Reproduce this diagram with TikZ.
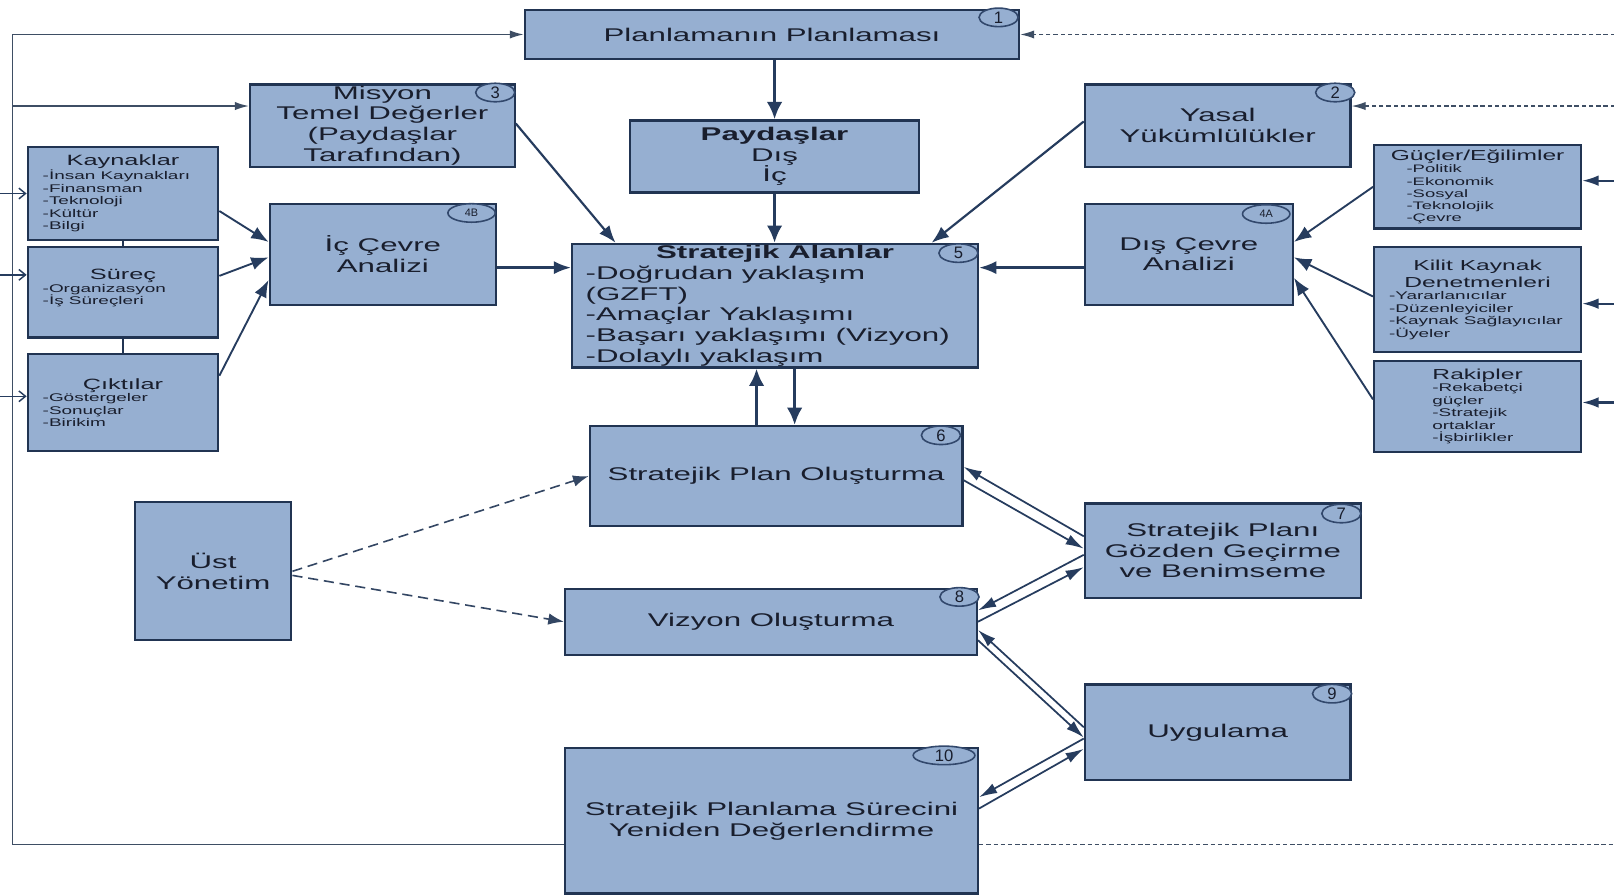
\documentclass[tikz,border=0pt]{standalone}
\usepackage{fontspec}
\setmainfont{Liberation Sans}[FakeStretch=1.7]
\newfontfamily\ringfont{Liberation Sans}
\usetikzlibrary{arrows.meta,shapes.geometric,calc}
\definecolor{boxfill}{RGB}{150,175,209}
\definecolor{boxline}{RGB}{33,52,82}
\definecolor{arrcol}{RGB}{38,60,94}
\definecolor{txtcol}{RGB}{25,30,45}
\definecolor{ringcol}{RGB}{50,72,108}
\definecolor{loopcol}{RGB}{62,78,100}
\newcommand\fsz[2]{\fontsize{#1}{#2}\selectfont}
\setlength\parindent{0pt}
\tikzset{
  x=0.025cm, y=-0.025cm,
  sz/.style 2 args={minimum width=#1*0.025cm, minimum height=#2*0.025cm},
  box/.style={draw=boxline, fill=boxfill, line width=1.6pt, inner sep=0pt, text=txtcol, align=center, font=\fsz{12.7}{14.3}},
  sbox/.style={draw=boxline, fill=boxfill, line width=1.6pt, inner sep=0pt, text=txtcol, font=\fsz{7.7}{8.6}},
  ring/.style={ellipse, draw=ringcol, line width=1.1pt, fill=boxfill, inner sep=0pt, minimum width=0.95cm, minimum height=0.45cm, font=\ringfont\fsz{11.5}{12}, text=txtcol},
  thickarr/.style={draw=arrcol, line width=2.3pt, -{Latex[length=0.42cm,width=0.38cm]}},
  medarr/.style={draw=arrcol, line width=1.5pt, -{Latex[length=0.42cm,width=0.32cm]}},
  thinarr/.style={draw=arrcol, line width=1.2pt, -{Latex[length=0.44cm,width=0.26cm]}},
  dasharr/.style={draw=arrcol!85!gray, line width=1.1pt, dash pattern=on 7pt off 4pt, -{Latex[length=0.38cm,width=0.28cm]}},
  loopline/.style={draw=loopcol, line width=1.1pt},
  looparr/.style={loopline, -{Latex[length=0.34cm,width=0.2cm]}},
  rdash/.style={draw=loopcol, line width=0.9pt, dash pattern=on 3pt off 2pt},
  rdasharr/.style={rdash, -{Latex[length=0.34cm,width=0.2cm]}},
  openarr/.style={draw=arrcol, line width=1pt, -{Straight Barb[length=0.16cm,width=0.26cm]}},
  rarr/.style={draw=arrcol, line width=1.5pt, -{Latex[length=0.4cm,width=0.26cm]}},
  conn/.style={draw=boxline, line width=1.2pt},
}
\begin{document}
\begin{tikzpicture}
\useasboundingbox (0,0) rectangle (1568,870);
\fill[white] (0,0) rectangle (1568,870);

% main boxes
\node[box, sz={480}{47}] (b1) at (750,33.5) {Planlamanın Planlaması};
\node[box, sz={257}{80}] (b3) at (371.5,122) {Misyon\\Temel Değerler\\(Paydaşlar\\Tarafından)};
\node[box, sz={281}{70}] (pay) at (752.5,152) {\textbf{Paydaşlar}\\Dış\\İç};
\node[box, sz={258}{80}] (b2) at (1183,122) {Yasal\\Yükümlülükler};
\node[box, sz={220}{98}] (b4b) at (372,247) {İç Çevre\\Analizi};
\node[box, sz={202}{98}] (b4a) at (1155,247) {Dış Çevre\\Analizi};
\node[box, sz={394}{120}, align=none] (b5) at (753,297)
  {\parbox{9.2cm}{\centerline{\textbf{Stratejik Alanlar}}\raggedright -Doğrudan yaklaşım\\(GZFT)\\-Amaçlar Yaklaşımı\\-Başarı yaklaşımı (Vizyon)\\-Dolaylı yaklaşım}};

% left small boxes
\node[sbox, sz={185}{90}] (kay) at (119.5,188)
  {\parbox{4.3cm}{\centerline{\fsz{10.3}{12}Kaynaklar}\raggedright\leftskip=0.2cm -İnsan Kaynakları\\-Finansman\\-Teknoloji\\-Kültür\\-Bilgi}};
\node[sbox, sz={185}{88}] (sur) at (119.5,284)
  {\parbox{4.3cm}{\centerline{\fsz{10.3}{12}Süreç}\raggedright\leftskip=0.2cm -Organizasyon\\-İş Süreçleri\par\vspace*{6pt}}};
\node[sbox, sz={185}{94}] (cik) at (119.5,391)
  {\parbox{4.3cm}{\centerline{\fsz{10.3}{12}Çıktılar}\raggedright\leftskip=0.2cm -Göstergeler\\-Sonuçlar\\-Birikim}};

% right small boxes
\node[sbox, sz={201}{81}, font=\fsz{7.5}{8.3}] (guc) at (1435.5,181.5)
  {\parbox{4.7cm}{\centerline{\fsz{10}{11.5}Güçler/Eğilimler}\raggedright\leftskip=0.625cm -Politik\\-Ekonomik\\-Sosyal\\-Teknolojik\\-Çevre}};
\node[sbox, sz={201}{102}] (kil) at (1435.5,291)
  {\parbox{4.7cm}{\fsz{10}{12}\centerline{Kilit Kaynak}\centerline{Denetmenleri}\fsz{7.7}{8.6}\raggedright\leftskip=0.2cm -Yararlanıcılar\\-Düzenleyiciler\\-Kaynak Sağlayıcılar\\-Üyeler}};
\node[sbox, sz={201}{88}] (rak) at (1435.5,395)
  {\parbox{4.7cm}{\centerline{\fsz{10}{11.5}Rakipler}\raggedright\leftskip=1.25cm -Rekabetçi\\güçler\\-Stratejik\\ortaklar\\-İşbirlikler}};

% lower boxes
\node[box, sz={362}{97}] (b6) at (754,462.5) {Stratejik Plan Oluşturma};
\node[box, sz={268}{92}] (b7) at (1188,535) {Stratejik Planı\\Gözden Geçirme\\ve Benimseme};
\node[box, sz={152}{134}] (ust) at (207,555) {Üst\\Yönetim};
\node[box, sz={400}{64}] (b8) at (749,604) {Vizyon Oluşturma};
\node[box, sz={258}{93}] (b9) at (1183,711.5) {Uygulama};
\node[box, sz={401}{141}] (b10) at (749.5,797.5) {Stratejik Planlama Sürecini\\Yeniden Değerlendirme};

% number rings
\node[ring] (n1) at ([shift={(-21,8)}]b1.north east) {1};
\node[ring] (n2) at ([shift={(-16,9)}]b2.north east) {2};
\node[ring] (n3) at ([shift={(-20,9)}]b3.north east) {3};
\node[ring, minimum width=1.15cm, font=\ringfont\fsz{7.5}{8}] (n4b) at ([shift={(-25,10)}]b4b.north east) {4B};
\node[ring] (n5) at ([shift={(-20,10)}]b5.north east) {5};
\node[ring, minimum width=1.15cm, font=\ringfont\fsz{7.5}{8}] (n4a) at ([shift={(-27,11)}]b4a.north east) {4A};
\node[ring] (n6) at ([shift={(-22,10)}]b6.north east) {6};
\node[ring] (n7) at ([shift={(-20,11)}]b7.north east) {7};
\node[ring] (n8) at ([shift={(-18,9)}]b8.north east) {8};
\node[ring] (n9) at ([shift={(-19,10)}]b9.north east) {9};
\node[ring, minimum width=1.5cm] (n10) at ([shift={(-34,8)}]b10.north east) {10};

% central flow
\draw[thickarr] (b1.south -| pay.north) -- (pay.north);
\draw[thickarr] (pay.south) -- (pay.south |- b5.north);
\draw[medarr] ([shift={(0,-2)}]b3.east) -- ([shift={(-155,0)}]b5.north);
\draw[medarr] ([shift={(0,-4)}]b2.west) -- ([shift={(152,0)}]b5.north);
\path ([shift={(0,13)}]b4b.east) coordinate (p4b);
\draw[medarr, line width=2pt] (p4b) -- (p4b -| b5.west);
\path ([shift={(0,13)}]b4a.west) coordinate (p4a);
\draw[medarr, line width=2pt] (p4a) -- (p4a -| b5.east);

% inputs to analyses
\draw[medarr, line width=1.3pt] ([shift={(0,17)}]kay.east) -- ([shift={(0,-12)}]b4b.west);
\draw[medarr, line width=1.3pt] ([shift={(0,-16)}]sur.east) -- ([shift={(0,3)}]b4b.west);
\draw[medarr, line width=1.3pt] ([shift={(0,-26)}]cik.east) -- ([shift={(0,25)}]b4b.west);
\draw[medarr, line width=1.3pt] (guc.west) -- ([shift={(0,-12)}]b4a.east);
\draw[medarr, line width=1.3pt] ([shift={(0,-3)}]kil.west) -- ([shift={(0,3)}]b4a.east);
\draw[medarr, line width=1.3pt] ([shift={(0,-7)}]rak.west) -- ([shift={(0,23)}]b4a.east);
\draw[conn] (kay.south) -- (sur.north);
\draw[conn] (sur.south) -- (cik.north);

% 5 <-> 6
\path ([shift={(-19,0)}]b6.north) coordinate (u1);
\draw[thickarr] (u1) -- (u1 |- b5.south);
\path ([shift={(19,0)}]b5.south) coordinate (d1);
\draw[thickarr] (d1) -- (d1 |- b6.north);

% top management
\draw[dasharr] (ust.east) -- (b6.west);
\draw[dasharr] ([shift={(0,4)}]ust.east) -- (b8.west);

% parallel pairs
\draw[thinarr] ([shift={(0,-14)}]b7.west) -- ([shift={(0,-9)}]b6.east);
\draw[thinarr] ([shift={(0,4)}]b6.east) -- ([shift={(0,-2)}]b7.west);
\draw[thinarr] ([shift={(0,4)}]b7.west) -- ([shift={(0,-11)}]b8.east);
\draw[thinarr] (b8.east) -- ([shift={(0,16)}]b7.west);
\draw[thinarr] ([shift={(0,-5)}]b9.west) -- ([shift={(0,8)}]b8.east);
\draw[thinarr] ([shift={(0,18)}]b8.east) -- ([shift={(0,5)}]b9.west);
\draw[thinarr] ([shift={(0,6)}]b9.west) -- ([shift={(0,-23)}]b10.east);
\draw[thinarr] ([shift={(0,-12)}]b10.east) -- ([shift={(0,16)}]b9.west);

% feedback loop (left)
\coordinate (lx) at (12,0);
\path ([shift={(0,23)}]b10.west) coordinate (lp0);
\draw[looparr] (lp0) -| (lx |- b1.west) -- (b1.west);
\path ([shift={(0,-19)}]b3.west) coordinate (p3);
\draw[looparr] (p3 -| lx) -- (p3);

% external inputs (left)
\coordinate (lx0) at (-6,0);
\draw[openarr] (lx0 |- kay.west) -- (kay.west);
\path ([shift={(0,-17)}]sur.west) coordinate (ps);
\draw[openarr] (ps -| lx0) -- (ps);
\path ([shift={(0,-6)}]cik.west) coordinate (pc);
\draw[openarr] (pc -| lx0) -- (pc);

% external inputs (right)
\coordinate (rx0) at (1576,0);
\path ([shift={(0,-6)}]guc.east) coordinate (pg);
\draw[rarr] (pg -| rx0) -- (pg);
\path ([shift={(0,4)}]kil.east) coordinate (pk);
\draw[rarr] (pk -| rx0) -- (pk);
\path ([shift={(0,-4)}]rak.east) coordinate (pr);
\draw[rarr] (pr -| rx0) -- (pr);

% dashed feedback (right)
\draw[rdasharr] (rx0 |- b1.east) -- (b1.east);
\path ([shift={(0,-19)}]b2.east) coordinate (p2);
\draw[rdasharr] (p2 -| rx0) -- (p2);
\path ([shift={(0,23)}]b10.east) coordinate (p10);
\draw[rdash] (p10) -- (p10 -| rx0);
\end{tikzpicture}
\end{document}
